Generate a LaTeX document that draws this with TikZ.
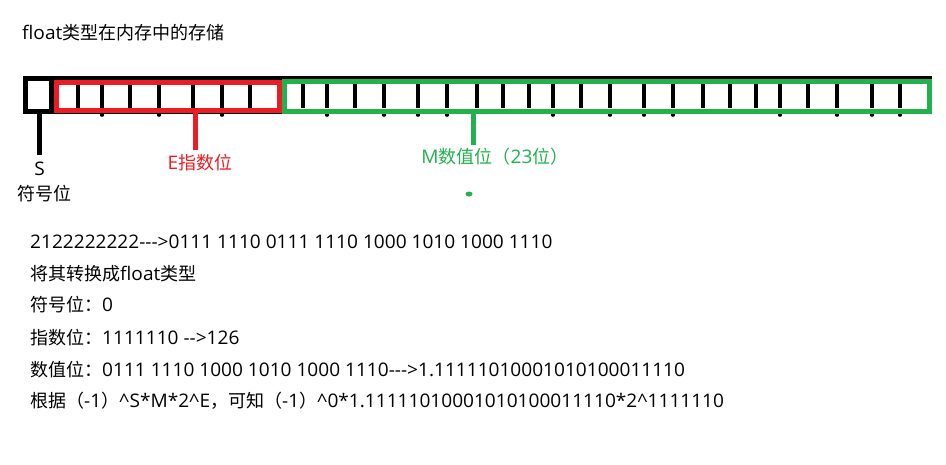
\documentclass[tikz,border=0pt]{standalone}
\usepackage{fontspec}
\setmainfont{Noto Sans CJK SC}
\newfontfamily\latfont{Open Sans}[FakeStretch=1.02]
\newcommand{\latn}[1]{{\latfont\fontsize{18.7}{20}\selectfont #1}}
\definecolor{pred}{HTML}{ED1C24}
\definecolor{pgreen}{HTML}{22B14C}
\newcommand{\crt}{\textasciicircum}
\begin{document}
\begin{tikzpicture}[x=1pt,y=-1pt,
  txt/.style={anchor=base west,inner sep=0pt,font=\fontsize{18}{20}\selectfont},
  lbl/.style={anchor=base,inner sep=0pt,font=\fontsize{18}{20}\selectfont},
  divider/.style={line width=4.2pt},
  dot/.style={fill=black,draw=none}]
\useasboundingbox[fill=white] (0,0) rectangle (946,464);
% title
\node[txt] (title) at (22,39) {\latn{float}类型在内存中的存储};
% outer black frame
\draw[line width=4.5pt] (25.5,78.5) rectangle (930,111.5);
\draw[line width=4.5pt] (51.5,78.5) -- (51.5,111.5);
% dividers
\foreach \x in {78,102,130,159,193,222,250,303,327,355,384,418,447,477,503,529,553,581,610,644,673,703,730,756,780,808,837,872,900}
  \draw[divider] (\x,84) -- (\x,108);
\foreach \x in {102,159,222,327,384,418,447,553,610,644,673,780,837,872,900}
  \fill[dot] (\x,115) ellipse (2.2 and 1.8);
% red E box
\draw[pred,line width=5pt] (56,82) rectangle (279,110.5);
% green M box
\draw[pgreen,line width=5pt] (284.5,81.5) rectangle (929,111.5);
% S
\coordinate (sTop) at (39.5,110);
\node[lbl] (S) at (39.5,175) {\latn{S}};
\node[lbl] (sign) at (44,200) {符号位};
\draw[line width=4.5pt] (sTop) -- (39.5,155);
% E
\coordinate (eTop) at (195.5,111);
\node[lbl,text=pred] (E) at (200,169) {\latn{E}指数位};
\draw[pred,line width=4.5pt] (eTop) -- (195.5,150);
% M
\coordinate (mTop) at (473.5,112);
\node[lbl,text=pgreen] (M) at (495,163) {\latn{M}数值位（\latn{23}位）};
\draw[pgreen,line width=4.5pt] (mTop) -- (473.5,145);
\fill[pgreen] (469,194) ellipse (3.5 and 2.5);
% text lines
\node[txt] (l1) at (30,248) {\latn{2122222222-{}-{}->0111 1110 0111 1110 1000 1010 1000 1110}};
\node[txt] (l2) at (30,280) {将其转换成\latn{float}类型};
\node[txt] (l3) at (30,311) {符号位：\latn{0}};
\node[txt] (l4) at (30,344) {指数位：\latn{1111110 -{}->126}};
\node[txt] (l5) at (30,376) {数值位：\latn{0111 1110 1000 1010 1000 1110-{}-{}->1.11111010001010100011110}};
\node[txt] (l6) at (30,407) {根据（\latn{-1}）\latn{\crt S*M*2\crt E}，可知（\latn{-1}）\latn{\crt 0*1.11111010001010100011110*2\crt 1111110}};
\end{tikzpicture}
\end{document}
